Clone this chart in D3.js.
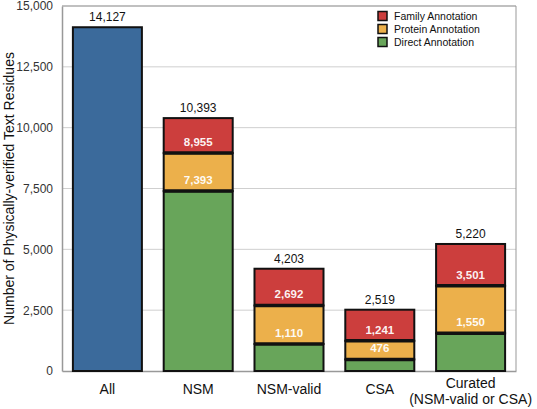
<!DOCTYPE html>
<html><head><meta charset="utf-8">
<script src="https://cdn.jsdelivr.net/npm/d3@7"></script>
<style>body{margin:0;background:#fff}svg{display:block;font-family:"Liberation Sans",Arial,sans-serif}</style>
</head><body><svg id="c" width="537" height="409"></svg>
<script>
const categories = ["All", "NSM", "NSM-valid", "CSA", "Curated|(NSM-valid or CSA)"];
const allTotal = [14127, null, null, null, null];
const directCum = [null, 7393, 1110, 476, 1550];
const proteinCum = [null, 8955, 2692, 1241, 3501];
const familyCum = [null, 10393, 4203, 2519, 5220];
const yTicks = [0, 2500, 5000, 7500, 10000, 12500, 15000];
const seriesNames = ["Family Annotation", "Protein Annotation", "Direct Annotation"];
const colors = {all: "#3b6a9b", family: "#cc3e3d", protein: "#ecb04b", direct: "#68a55a"};

const svg = d3.select("#c");
const m = {l: 62, r: 21, t: 6, b: 38};
const W = 537, H = 409;
const x = d3.scaleBand().domain(categories).range([m.l, W - m.r]).paddingInner(0.24).paddingOuter(0.12);
const y = d3.scaleLinear().domain([0, 15000]).range([H - m.b, m.t]);
const fmt = d3.format(",");

// gridlines
svg.append("g").selectAll("line").data(yTicks.slice(1)).join("line")
  .attr("x1", m.l).attr("x2", W - m.r).attr("y1", d => y(d)).attr("y2", d => y(d))
  .attr("stroke", "#cfcfcf").attr("stroke-width", 1);
// frame
svg.append("line").attr("x1", W - m.r).attr("x2", W - m.r).attr("y1", m.t).attr("y2", H - m.b).attr("stroke", "#999");
svg.append("line").attr("x1", m.l).attr("x2", W - m.r).attr("y1", m.t).attr("y2", m.t).attr("stroke", "#999");

// y axis
const ya = svg.append("g").attr("transform", `translate(${m.l},0)`)
  .call(d3.axisLeft(y).tickValues(yTicks).tickFormat(fmt).tickSize(0).tickPadding(9));
ya.select(".domain").attr("stroke", "#999").attr("stroke-width", 1.5);
ya.selectAll("text").attr("font-size", 12).attr("fill", "#333").attr("font-family", "Liberation Sans, Arial, sans-serif");

// x axis
const xa = svg.append("g").attr("transform", `translate(0,${H - m.b})`)
  .call(d3.axisBottom(x).tickSize(0).tickFormat(""));
xa.select(".domain").attr("stroke", "#999").attr("stroke-width", 1.5);

categories.forEach(c => {
  const parts = c.split("|");
  const t = svg.append("text").attr("x", x(c) + x.bandwidth() / 2).attr("text-anchor", "middle")
    .attr("font-size", 14).attr("fill", "#111");
  parts.forEach((p, i) => {
    t.append("tspan").attr("x", x(c) + x.bandwidth() / 2)
      .attr("y", (parts.length > 1 ? H - m.b + 17 : H - m.b + 23) + i * 16).text(p);
  });
});

// bars
const g = svg.append("g");
categories.forEach((c, i) => {
  const x0 = x(c), bw = x.bandwidth();
  let segs;
  if (allTotal[i] != null) {
    segs = [{lo: 0, hi: allTotal[i], col: colors.all}];
  } else {
    segs = [
      {lo: 0, hi: directCum[i], col: colors.direct},
      {lo: directCum[i], hi: proteinCum[i], col: colors.protein, label: directCum[i]},
      {lo: proteinCum[i], hi: familyCum[i], col: colors.family, label: proteinCum[i]}
    ];
  }
  segs.forEach(s => {
    g.append("rect").attr("x", x0).attr("width", bw)
      .attr("y", y(s.hi)).attr("height", y(s.lo) - y(s.hi))
      .attr("fill", s.col).attr("stroke", "#111").attr("stroke-width", 2);
  });
  segs.slice(1).forEach(s => {
    g.append("line").attr("x1", x0).attr("x2", x0 + bw).attr("y1", y(s.lo)).attr("y2", y(s.lo))
      .attr("stroke", "#111").attr("stroke-width", 3.5);
  });
  segs.forEach(s => {
    if (s.label != null) {
      g.append("text").attr("x", x0 + bw / 2).attr("y", y(s.lo) - 7).attr("text-anchor", "middle")
        .attr("font-size", 11.5).attr("font-weight", "bold").attr("fill", "#fff").attr("fill-opacity", 0.95)
        .text(fmt(s.label));
    }
  });
  const top = allTotal[i] != null ? allTotal[i] : familyCum[i];
  g.append("text").attr("x", x0 + bw / 2).attr("y", y(top) - 6).attr("text-anchor", "middle")
    .attr("font-size", 12).attr("fill", "#111").text(fmt(top));
});

// y title
svg.append("text").attr("transform", `translate(9,${(m.t + H - m.b) / 2}) rotate(-90)`)
  .attr("text-anchor", "middle").attr("dy", "0.35em").attr("font-size", 14).attr("fill", "#111")
  .text("Number of Physically-verified Text Residues");

// legend
const legCols = [colors.family, colors.protein, colors.direct];
const lg = svg.append("g");
seriesNames.forEach((n, i) => {
  const yy = 16 + i * 13;
  lg.append("rect").attr("x", 378).attr("y", yy - 4.5).attr("width", 9).attr("height", 9)
    .attr("fill", legCols[i]).attr("stroke", "#111").attr("stroke-width", 1.5);
  lg.append("text").attr("x", 394).attr("y", yy).attr("dy", "0.35em").attr("font-size", 10.5)
    .attr("fill", "#111").text(n);
});
</script></body></html>
